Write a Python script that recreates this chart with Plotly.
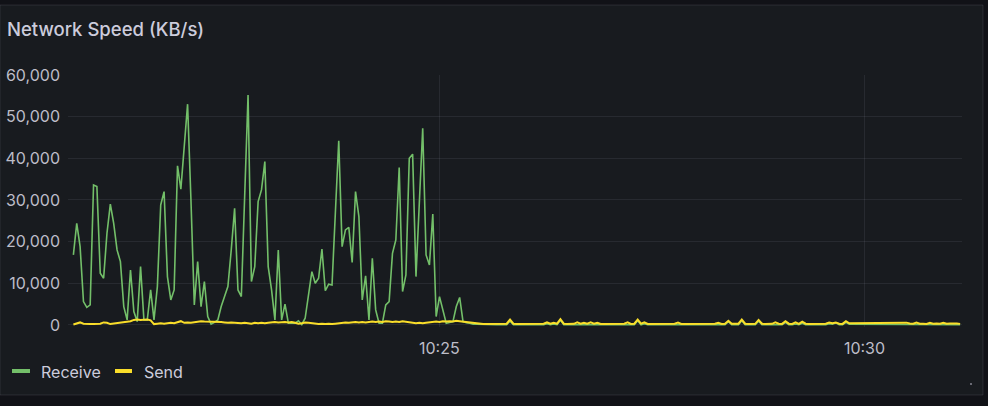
import pandas as pd
import plotly.graph_objects as go

# ---------------- data ----------------
start_time = "2024-01-01 10:20:41.800"
step = "2370ms"

receive = [
    16800, 24400, 18800, 5600, 4200, 4800, 33600, 33200, 12400, 11200,
    22000, 29000, 24400, 18000, 15200, 4400, 1200, 13200, 3200, 800,
    14000, 1200, 1200, 8400, 1200, 9200, 28800, 32000, 11600, 6000,
    8400, 38200, 32600, 43000, 53000, 30000, 4800, 15200, 4400, 10400,
    2000, 200, 600, 1200, 4400, 6800, 9200, 18000, 28000, 8400,
    6800, 31000, 55200, 10400, 14000, 29600, 32400, 39200, 14000, 8400,
    1200, 18000, 1200, 5000, 400, 400, 400, 1000, 100, 1600,
    7000, 12800, 10000, 11200, 18200, 8200, 9800, 9600, 27000, 44200,
    18800, 22800, 23400, 15000, 32000, 26000, 6000, 11800, 1200, 16000,
    3600, 400, 400, 4800, 5600, 17200, 20400, 37800, 8000, 12000,
    40000, 41000, 11600, 29000, 47200, 16800, 14400, 26600, 2000, 6800,
    3600, 400, 600, 800, 4400, 6600, 800, 500, 400, 200,
    200,
    150, 100, 80, 60, 50, 50, 40, 50, 60, 900,
    60, 40, 40, 30, 40, 50, 40, 40, 50, 60,
    300, 50, 250, 60, 1100, 60, 40, 40, 50, 200,
    50, 150, 50, 200, 50, 150, 40, 40, 40, 50,
    40, 40, 40, 60, 200, 40, 60, 1000, 50, 300,
    40, 40, 50, 40, 40, 40, 30, 40, 60, 200,
    40, 40, 40, 50, 40, 40, 40, 30, 40, 50,
    60, 150, 40, 60, 800, 60, 40, 60, 1000, 60,
    40, 40, 50, 900, 60, 40, 40, 50, 200, 60,
    40, 600, 60, 40, 200, 40, 400, 60, 40, 40,
    40, 50, 40, 60, 300, 150, 500, 60, 40, 600,
    150, 150, 150, 150, 150, 150, 150, 150, 150, 150,
    150, 150, 150, 150, 150, 150, 150, 200, 100, 80,
    200, 80, 80, 60, 150, 80, 100, 80, 150, 80,
    100, 150, 100, 60,
]

send = [
    100, 300, 600, 300, 200, 200, 250, 200, 300, 600,
    500, 200, 300, 500, 600, 700, 800, 900, 1200, 1300,
    1200, 1300, 1300, 1100, 200, 300, 400, 300, 400, 500,
    400, 600, 900, 500, 600, 500, 600, 800, 900, 800,
    800, 700, 800, 700, 700, 600, 500, 600, 500, 400,
    400, 500, 400, 300, 500, 400, 500, 400, 500, 600,
    700, 600, 700, 700, 600, 700, 500, 300, 400, 600,
    500, 400, 300, 200, 300, 200, 300, 200, 300, 400,
    500, 600, 500, 600, 700, 600, 700, 600, 700, 800,
    700, 800, 700, 900, 800, 700, 800, 700, 900, 800,
    600, 500, 400, 500, 400, 500, 600, 700, 800, 700,
    900, 800, 900, 800, 1000, 900, 800, 700, 500, 400,
    300,
    260, 250, 240, 250, 250, 260, 250, 250, 300, 1300,
    300, 250, 250, 240, 250, 260, 250, 250, 260, 300,
    600, 300, 500, 300, 1400, 300, 250, 250, 260, 600,
    300, 500, 300, 600, 300, 500, 250, 250, 250, 260,
    250, 250, 250, 300, 600, 250, 300, 1300, 300, 600,
    250, 250, 260, 250, 250, 250, 240, 250, 300, 550,
    250, 250, 250, 260, 250, 250, 250, 240, 250, 260,
    300, 500, 250, 300, 1000, 300, 250, 300, 1300, 300,
    250, 250, 260, 1200, 300, 250, 250, 260, 600, 300,
    250, 900, 300, 250, 600, 250, 800, 300, 250, 250,
    250, 260, 250, 300, 600, 400, 600, 300, 250, 900,
    400, 400, 400, 400, 400, 400, 400, 400, 400, 400,
    400, 400, 400, 400, 400, 400, 400, 550, 350, 300,
    550, 300, 300, 250, 500, 300, 350, 300, 500, 300,
    350, 400, 350, 250,
]

series_names = ["Receive", "Send"]
series_colors = ["#73bf69", "#fade2a"]
series_widths = [1.6, 2.0]
y_ticks = [0, 10000, 20000, 30000, 40000, 50000, 60000]
x_tick_values = ["2024-01-01 10:25:00", "2024-01-01 10:30:00"]
x_tick_labels = ["10:25", "10:30"]
x_range = ["2024-01-01 10:20:38.0", "2024-01-01 10:31:08.8"]
title_text = "Network Speed (KB/s)"

times = pd.date_range(start=start_time, periods=len(receive), freq=step)

# ---------------- layout helpers ----------------
W, H = 988, 406
ML, MR, MT, MB = 68, 26, 75, 79
PW, PH = W - ML - MR, H - MT - MB


def X(px):
    return (px - ML) / PW


def Y(py):
    return (MT + PH - py) / PH


FONT = "Inter, 'Open Sans', sans-serif"
TEXT = "#ccccdc"
AXIS_TEXT = "#bdbdc8"
GRID = "rgba(204,204,220,0.09)"
PANEL = "#181b1f"
OUTER = "#111217"

fig = go.Figure()
for name, vals, col, lw in zip(series_names, [receive, send], series_colors, series_widths):
    fig.add_trace(go.Scatter(
        x=times, y=vals, name=name, mode="lines",
        line=dict(color=col, width=lw), showlegend=False,
        hoverinfo="skip",
    ))

shapes = [
    # panel
    dict(type="rect", xref="paper", yref="paper", layer="below",
         x0=X(0), x1=X(983), y0=Y(395), y1=Y(5),
         fillcolor=PANEL, line=dict(color="rgba(204,204,220,0.12)", width=1)),
    # resize handle dot
    dict(type="rect", xref="paper", yref="paper", layer="above",
         x0=X(970), x1=X(972), y0=Y(385), y1=Y(383),
         fillcolor="rgba(204,204,220,0.45)", line=dict(width=0)),
]

# legend swatches
legend_items = [(12, 30, 40), (115, 132, 143)]
annotations = [
    dict(text=title_text, xref="paper", yref="paper", x=X(6), y=Y(29),
         xanchor="left", yanchor="middle", showarrow=False, borderpad=0,
         font=dict(family=FONT, size=18.5, color=TEXT, weight=500)),
]
for (sx0, sx1, tx), name, col in zip(legend_items, series_names, series_colors):
    shapes.append(dict(type="line", xref="paper", yref="paper", layer="above",
                       x0=X(sx0), x1=X(sx1), y0=Y(371), y1=Y(371),
                       line=dict(color=col, width=4)))
    annotations.append(dict(text=name, xref="paper", yref="paper", x=X(tx), y=Y(372),
                            xanchor="left", yanchor="middle", showarrow=False, borderpad=0,
                            font=dict(family=FONT, size=16, color=TEXT)))

fig.update_layout(
    width=W, height=H, autosize=False,
    margin=dict(l=ML, r=MR, t=MT, b=MB, pad=0, autoexpand=False),
    paper_bgcolor=OUTER, plot_bgcolor=PANEL,
    shapes=shapes, annotations=annotations,
    showlegend=False,
    xaxis=dict(
        type="date", range=x_range, automargin=False,
        tickvals=x_tick_values, ticktext=x_tick_labels,
        showgrid=True, gridcolor=GRID, gridwidth=1,
        zeroline=False, showline=False, ticks="",
        ticklabelstandoff=10,
        tickfont=dict(family=FONT, size=16, color=AXIS_TEXT),
        fixedrange=True,
    ),
    yaxis=dict(
        range=[-500, 60000], automargin=False,
        tickvals=y_ticks, tickformat=",",
        showgrid=True, gridcolor=GRID, gridwidth=1,
        zeroline=False, showline=False, ticks="",
        ticklabelstandoff=7,
        tickfont=dict(family=FONT, size=16, color=AXIS_TEXT),
        fixedrange=True,
    ),
)

fig.write_html(
    "out.html",
    config={"displayModeBar": False},
    post_script="document.body.style.margin='0';document.body.style.background='#111217';",
)
